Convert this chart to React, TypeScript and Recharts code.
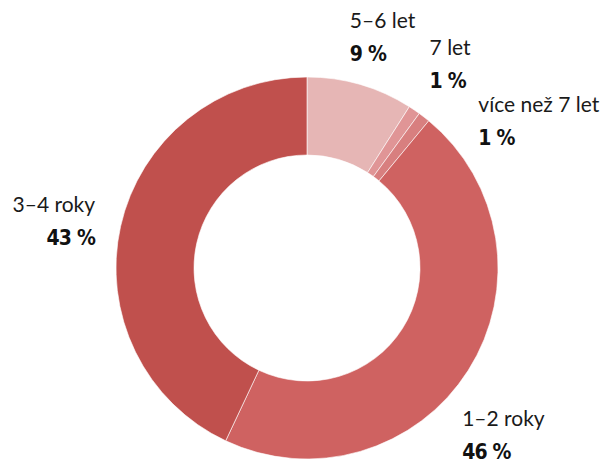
import { PieChart, Pie, Cell } from 'recharts';

// Podíl podle stáří (%)
const categories = ['5–6 let', '7 let', 'více než 7 let', '1–2 roky', '3–4 roky'];
const shares = [9, 1, 1, 46, 43];
const colors = ['#e6b6b5', '#e09596', '#d87f7f', '#cf6261', '#c0504d'];

const data = categories.map((name, i) => ({ name, value: shares[i] }));

// label nudges relative to the radial anchor point
const labelNudge = [
    { dx: -16, dy: -37, anchor: 'start' },
    { dx: 4, dy: -38, anchor: 'start' },
    { dx: 42, dy: 11, anchor: 'start' },
    { dx: -23, dy: 45, anchor: 'start' },
    { dx: -6, dy: -10, anchor: 'end' },
];

const RADIAN = Math.PI / 180;

function renderLabel(props: any) {
    const { cx, cy, midAngle, outerRadius, index, name, value } = props;
    const r = outerRadius + 20;
    const n = labelNudge[index];
    const x = cx + r * Math.cos(-midAngle * RADIAN) + n.dx;
    const y = cy + r * Math.sin(-midAngle * RADIAN) + n.dy;
    return (
        <g>
            <text x={x} y={y} textAnchor={n.anchor} fill="#1a1a1a" fontFamily="Lato" fontSize={21}>
                {name}
            </text>
            <text
                x={x}
                y={y + 33}
                textAnchor={n.anchor}
                fill="#111"
                fontFamily="'DejaVu Sans Condensed', 'DejaVu Sans'"
                fontStretch="condensed"
                fontWeight="bold"
                fontSize={21}
                letterSpacing={-0.8}
            >
                {`${value} %`}
            </text>
        </g>
    );
}

export default function App() {
    return (
        <div style={{ position: 'absolute', left: 0, top: 0, width: 610, height: 464, background: '#fff' }}>
            <PieChart width={610} height={464} margin={{ top: 0, right: 0, bottom: 0, left: 0 }}>
                <Pie
                    data={data}
                    dataKey="value"
                    nameKey="name"
                    cx={307}
                    cy={268}
                    innerRadius={113}
                    outerRadius={191}
                    startAngle={90}
                    endAngle={-270}
                    stroke="#fff"
                    strokeWidth={0.6}
                    label={renderLabel}
                    labelLine={false}
                    isAnimationActive={false}
                >
                    {data.map((d, i) => (
                        <Cell key={d.name} fill={colors[i]} />
                    ))}
                </Pie>
            </PieChart>
        </div>
    );
}
